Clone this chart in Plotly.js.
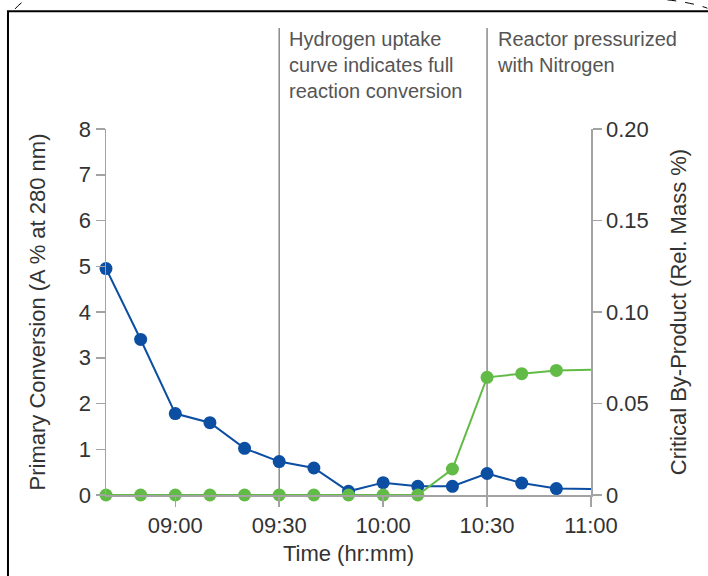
<!DOCTYPE html>
<html>
<head>
<meta charset="utf-8">
<script src="https://cdn.plot.ly/plotly-3.0.1.min.js"></script>
<style>html,body{margin:0;padding:0;background:#fff;}#chart{width:708px;height:576px;}</style>
</head>
<body>
<div id="chart"></div>
<script>
// ---- data ----
const times = ['08:40','08:50','09:00','09:10','09:20','09:30','09:40','09:50','10:00','10:10','10:20','10:30','10:40','10:50','11:00'];
const primaryConversion = [4.95,3.40,1.78,1.58,1.02,0.73,0.59,0.08,0.27,0.19,0.19,0.47,0.26,0.14,0.13];
const criticalByProduct = [0,0,0,0,0,0,0,0,0,0,0.0142,0.0643,0.0663,0.0681,0.0685];
const eventTimes = ['09:30','10:30'];
const eventLabels = ['Hydrogen uptake<br>curve indicates full<br>reaction conversion','Reactor pressurized<br>with Nitrogen'];
const xTitle = 'Time (hr:mm)';
const yTitle = 'Primary Conversion (A % at 280 nm)';
const y2Title = 'Critical By-Product (Rel. Mass %)';

const day = '2024-01-01 ';
const X = times.map(t => day + t);
const sizes = times.map((t,i) => i === times.length-1 ? 0 : 13);

const FONT = 'Liberation Sans, Arial, sans-serif';
const AX = '#a3a3a3';

const traces = [
  {x: X, y: primaryConversion, type:'scatter', mode:'lines+markers', yaxis:'y',
   line:{color:'#0b4ea2', width:2}, marker:{color:'#0b4ea2', size:sizes, opacity:1, line:{width:0}}, cliponaxis:false, hoverinfo:'skip'},
  {x: X, y: criticalByProduct, type:'scatter', mode:'lines+markers', yaxis:'y2',
   line:{color:'#62bb46', width:2}, marker:{color:'#62bb46', size:sizes, opacity:1, line:{width:0}}, cliponaxis:false, hoverinfo:'skip'}
];

const yTop = (495-28)/366;
const shapes = eventTimes.map(t => ({type:'line', xref:'x', yref:'paper', x0:day+t, x1:day+t, y0:0, y1:yTop,
  line:{color:'#8a8a8a', width:1.5}, layer:'below'}));
// outer frame
shapes.push({type:'path', xref:'paper', yref:'paper',
  path:'M -0.2021,-0.3 L -0.2021,1.322 L 1.3,1.322', line:{color:'#000', width:2}});
shapes.push({type:'path', xref:'paper', yref:'paper',
  path:'M -0.1876,1.328 Q -0.178,1.343 -0.165,1.353', line:{color:'#000', width:1, dash:'dash'}});
shapes.push({type:'path', xref:'paper', yref:'paper',
  path:'M 1.157,1.353 Q 1.21,1.345 1.24,1.33', line:{color:'#000', width:1, dash:'dash'}});

const annotations = eventTimes.map((t,i) => ({xref:'x', yref:'paper', x:day+t, y:yTop, xanchor:'left', yanchor:'top',
  xshift:8, yshift:2, align:'left', showarrow:false, text:eventLabels[i], font:{family:FONT, size:20, color:'#555'}}));

const layout = {
  width:708, height:576,
  margin:{l:106, r:117, t:129, b:81},
  paper_bgcolor:'#fff', plot_bgcolor:'#fff',
  showlegend:false,
  font:{family:FONT, color:'#333'},
  xaxis:{type:'date', range:[day+'08:40', day+'11:00'], tick0:day+'09:00', dtick:1800000, tickformat:'%H:%M',
    showgrid:false, zeroline:false, showline:true, linecolor:AX, linewidth:1.5,
    ticks:'outside', ticklen:10, tickcolor:AX, tickwidth:1.5, tickfont:{size:22, color:'#333'},
    title:{text:xTitle, font:{size:22, color:'#333'}, standoff:8}},
  yaxis:{range:[0,8], dtick:1, showgrid:false, zeroline:false, showline:true, linecolor:AX, linewidth:1.5,
    ticks:'outside', ticklen:9, tickcolor:AX, tickwidth:1.5, tickfont:{size:22, color:'#333'},
    title:{text:yTitle, font:{size:22, color:'#333'}, standoff:27}},
  yaxis2:{overlaying:'y', side:'right', range:[0,0.2], tickvals:[0,0.05,0.1,0.15,0.2], ticktext:['0','0.05','0.10','0.15','0.20'],
    showgrid:false, zeroline:false, showline:true, linecolor:AX, linewidth:1.5,
    ticks:'outside', ticklen:9, tickcolor:AX, tickwidth:1.5, tickfont:{size:22, color:'#333'},
    title:{text:y2Title, font:{size:22, color:'#333'}, standoff:23}},
  shapes:shapes, annotations:annotations
};

Plotly.newPlot('chart', traces, layout, {displayModeBar:false, staticPlot:true});
</script>
</body>
</html>
